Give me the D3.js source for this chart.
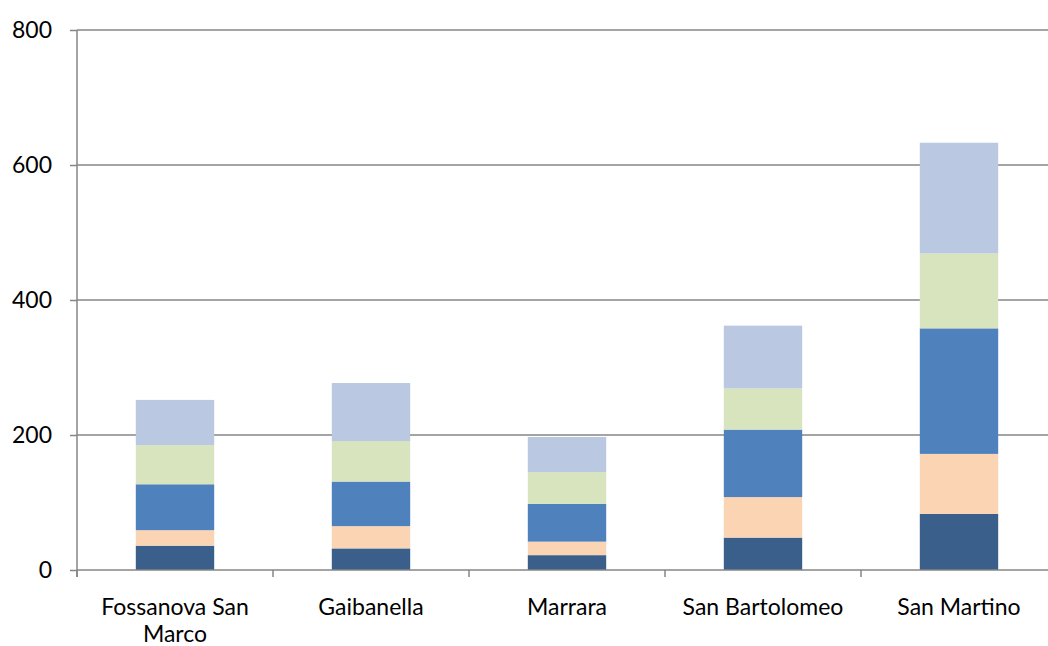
<!DOCTYPE html>
<html>
<head>
<meta charset="utf-8">
<script src="https://cdn.jsdelivr.net/npm/d3@7"></script>
<style>
  body { margin: 0; background: #fff; }
  text { font-family: Lato, "Open Sans", sans-serif; fill: #000; }
</style>
</head>
<body>
<div id="chart"></div>
<script>
// categories and stacked series (bottom to top)
var places = ["Fossanova San Marco", "Gaibanella", "Marrara", "San Bartolomeo", "San Martino"]
var serie1 = [36, 32, 22, 48, 83]
var serie2 = [23, 33, 20, 60, 89]
var serie3 = [68, 66, 56, 100, 186]
var serie4 = [58, 60, 47, 61, 111]
var serie5 = [67, 86, 52, 93, 164]
var yTicks = [0, 200, 400, 600, 800]

var colors = ["#3a5f8b", "#fbd4b4", "#4f81bd", "#d7e4bd", "#bac8e1"]

var width = 1048, height = 646
var margin = {top: 30, left: 77, bottom: 76}
var plotW = 196 * places.length
var plotH = height - margin.top - margin.bottom

var svg = d3.select("#chart")
  .append("svg")
    .attr("width", width)
    .attr("height", height)

var g = svg.append("g")
    .attr("transform", "translate(" + margin.left + "," + margin.top + ")")

var rows = places.map(function(p, i) {
  return {place: p, s1: serie1[i], s2: serie2[i], s3: serie3[i], s4: serie4[i], s5: serie5[i]}
})
var keys = ["s1", "s2", "s3", "s4", "s5"]
var stacked = d3.stack().keys(keys)(rows)

var x = d3.scaleBand()
  .domain(places)
  .range([0, plotW])
  .paddingInner(0.6)
  .paddingOuter(0.3)

var y = d3.scaleLinear()
  .domain([0, 800])
  .range([plotH, 0])

// gridlines
g.append("g")
  .selectAll("line")
  .data(yTicks.slice(1))
  .enter()
  .append("line")
    .attr("x1", 0)
    .attr("x2", plotW)
    .attr("y1", function(d) { return y(d) })
    .attr("y2", function(d) { return y(d) })
    .attr("stroke", "#868686")
    .attr("stroke-width", 1.5)

// bars
g.append("g")
  .selectAll("g")
  .data(stacked)
  .enter()
  .append("g")
    .attr("fill", function(d, i) { return colors[i] })
  .selectAll("rect")
  .data(function(d) { return d })
  .enter()
  .append("rect")
    .attr("x", function(d) { return x(d.data.place) })
    .attr("width", x.bandwidth())
    .attr("y", function(d) { return y(d[1]) })
    .attr("height", function(d) { return y(d[0]) - y(d[1]) })

// y axis
var yAxis = g.append("g")
  .call(d3.axisLeft(y).tickValues(yTicks).tickSize(7).tickPadding(18))
yAxis.select(".domain").attr("stroke", "#868686").attr("stroke-width", 1.5)
  .attr("d", "M0," + (plotH + 7) + "V0")
yAxis.selectAll(".tick line").attr("stroke", "#868686").attr("stroke-width", 1.5)
yAxis.selectAll(".tick text").style("font-size", "23px").attr("fill", "#000")

// x axis: ticks between categories
var xAxisG = g.append("g")
  .attr("transform", "translate(0," + plotH + ")")
xAxisG.append("line")
  .attr("x1", 0).attr("x2", plotW)
  .attr("stroke", "#868686").attr("stroke-width", 1.5)
xAxisG.selectAll(".sep")
  .data(d3.range(places.length + 1))
  .enter()
  .append("line")
    .attr("x1", function(d) { return d * plotW / places.length })
    .attr("x2", function(d) { return d * plotW / places.length })
    .attr("y1", 0).attr("y2", 7)
    .attr("stroke", "#868686").attr("stroke-width", 1.5)

var labels = xAxisG.selectAll(".lbl")
  .data(places)
  .enter()
  .append("text")
    .attr("text-anchor", "middle")
    .attr("y", 45)
    .style("font-size", "23px")
    .text(function(d) { return d })

// wrap long labels
labels.each(function(d) {
  var text = d3.select(this)
  var cx = x(d) + x.bandwidth() / 2
  var words = d.split(" ")
  text.text(null)
  var line = []
  var tspan = text.append("tspan").attr("x", cx).attr("dy", 0)
  words.forEach(function(w) {
    line.push(w)
    tspan.text(line.join(" "))
    if (tspan.node().getComputedTextLength() > 180 && line.length > 1) {
      line.pop()
      tspan.text(line.join(" "))
      line = [w]
      tspan = text.append("tspan").attr("x", cx).attr("dy", "27px").text(w)
    }
  })
})
</script>
</body>
</html>
